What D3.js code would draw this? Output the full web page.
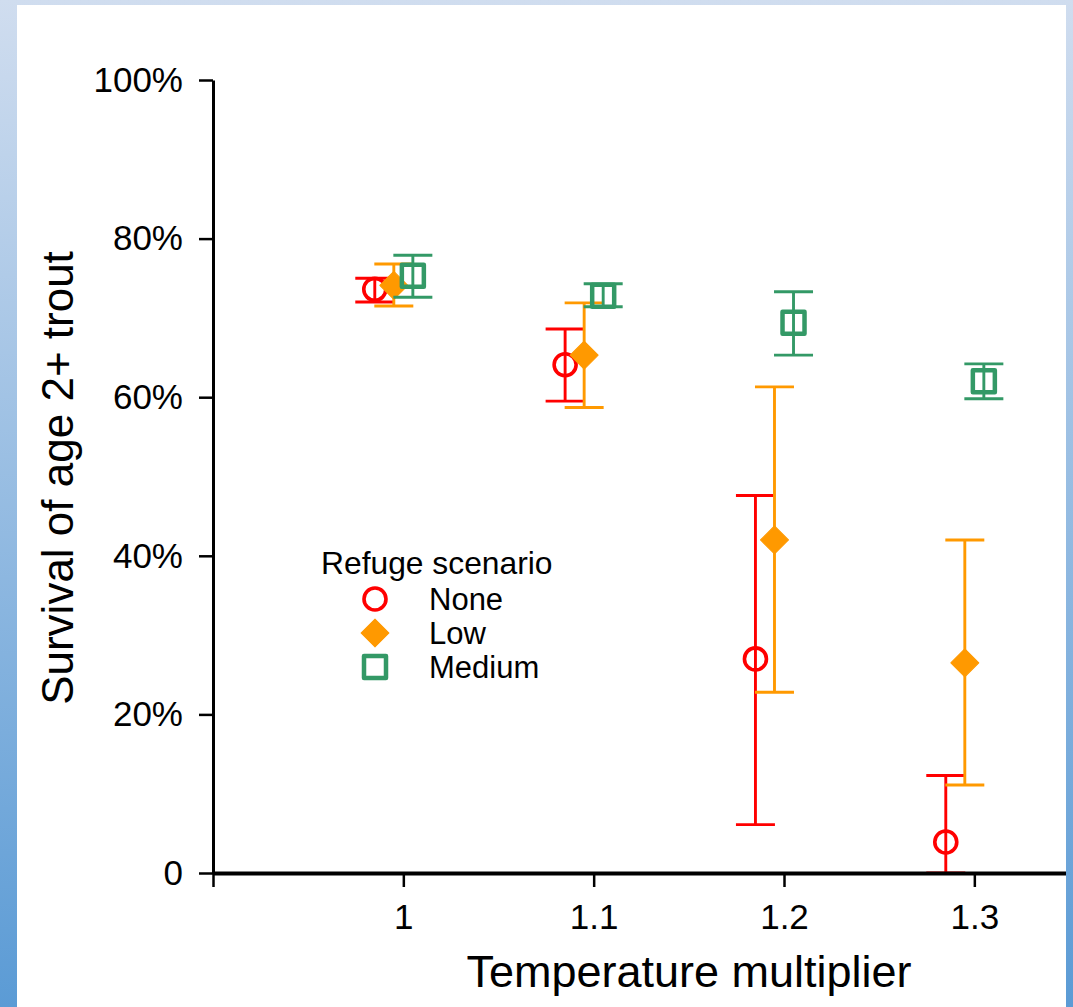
<!DOCTYPE html>
<html>
<head>
<meta charset="utf-8">
<script src="https://cdn.jsdelivr.net/npm/d3@7"></script>
<style>
  html, body { margin: 0; padding: 0; background: #fff; }
  svg { display: block; }
  text { font-family: "Liberation Sans", Arial, sans-serif; fill: #000; }
</style>
</head>
<body>
<svg id="chart" width="1073" height="1007"></svg>
<script>
// Temperature multipliers on the x axis
const temps = [1.0, 1.1, 1.2, 1.3];
const xTickValues = [0.9, 1.0, 1.1, 1.2, 1.3];
const xTickLabels = ["", "1", "1.1", "1.2", "1.3"];
const yTickValues = [0, 0.2, 0.4, 0.6, 0.8, 1.0];
const yTickLabels = ["0", "20%", "40%", "60%", "80%", "100%"];

// Refuge scenarios
const scenarios = ["None", "Low", "Medium"];

// Survival of age 2+ trout: mean, lower and upper interval per scenario
const noneMean = [0.736, 0.641, 0.270, 0.039];
const noneLow  = [0.720, 0.595, 0.061, 0.000];
const noneHigh = [0.750, 0.686, 0.476, 0.123];

const lowMean = [0.741, 0.653, 0.420, 0.265];
const lowLow  = [0.715, 0.587, 0.228, 0.111];
const lowHigh = [0.768, 0.719, 0.613, 0.420];

const medMean = [0.753, 0.728, 0.694, 0.620];
const medLow  = [0.726, 0.714, 0.653, 0.598];
const medHigh = [0.779, 0.743, 0.733, 0.642];

const series = [
  { name: scenarios[0], mean: noneMean, lo: noneLow, hi: noneHigh, color: "#FF0000", shape: "circle", dodge: -0.015 },
  { name: scenarios[1], mean: lowMean,  lo: lowLow,  hi: lowHigh,  color: "#FF9900", shape: "diamond", dodge: -0.005 },
  { name: scenarios[2], mean: medMean,  lo: medLow,  hi: medHigh,  color: "#339966", shape: "square", dodge: 0.005 }
];

const svg = d3.select("#chart");
const W = 1073, H = 1007;

// Blue gradient frame behind a white panel
const defs = svg.append("defs");
const grad = defs.append("linearGradient").attr("id", "frameGrad")
  .attr("x1", 0).attr("y1", 0).attr("x2", 0).attr("y2", 1);
grad.append("stop").attr("offset", "0%").attr("stop-color", "#D0DDEF");
grad.append("stop").attr("offset", "100%").attr("stop-color", "#5B9BD5");
svg.append("rect").attr("width", W).attr("height", H).attr("fill", "url(#frameGrad)");

const panel = { x0: 17, y0: 5, x1: 1066, y1: H };
svg.append("rect")
  .attr("x", panel.x0).attr("y", panel.y0)
  .attr("width", panel.x1 - panel.x0).attr("height", panel.y1 - panel.y0)
  .attr("fill", "#fff");

defs.append("clipPath").attr("id", "panelClip")
  .append("rect")
  .attr("x", panel.x0).attr("y", panel.y0)
  .attr("width", panel.x1 - panel.x0).attr("height", panel.y1 - panel.y0);

const g = svg.append("g").attr("clip-path", "url(#panelClip)");

// Scales
const x = d3.scaleLinear().domain([0.9, 1.35]).range([213, 1069.5]);
const y = d3.scaleLinear().domain([0, 1]).range([873, 80]);

// Error bars and markers
const capHalf = 19.5;
const symbolFor = {
  circle: d3.symbol().type(d3.symbolCircle).size(Math.PI * 11 * 11),
  diamond: d3.symbol().type(d3.symbolSquare).size(2 * 14 * 14),
  square: d3.symbol().type(d3.symbolSquare).size(22 * 22)
};

series.forEach(s => {
  const pts = temps.map((t, i) => ({ t, m: s.mean[i], lo: s.lo[i], hi: s.hi[i] }));
  const sg = g.append("g").attr("class", "series-" + s.name);

  const eb = sg.selectAll("g.eb").data(pts).join("g").attr("class", "eb")
    .attr("stroke", s.color).attr("stroke-width", 2.9).attr("fill", "none");
  eb.append("line")
    .attr("x1", d => x(d.t + s.dodge)).attr("x2", d => x(d.t + s.dodge))
    .attr("y1", d => y(d.lo)).attr("y2", d => y(d.hi));
  eb.append("line")
    .attr("x1", d => x(d.t + s.dodge) - capHalf).attr("x2", d => x(d.t + s.dodge) + capHalf)
    .attr("y1", d => y(d.hi)).attr("y2", d => y(d.hi));
  eb.append("line")
    .attr("x1", d => x(d.t + s.dodge) - capHalf).attr("x2", d => x(d.t + s.dodge) + capHalf)
    .attr("y1", d => y(d.lo)).attr("y2", d => y(d.lo));

  const mk = sg.selectAll("path.mk").data(pts).join("path").attr("class", "mk")
    .attr("d", symbolFor[s.shape]());
  styleMarker(mk, s);
  mk.attr("transform", d => {
    const base = `translate(${x(d.t + s.dodge)},${y(d.m)})`;
    return s.shape === "diamond" ? base + " rotate(45)" : base;
  });
});

function styleMarker(sel, s) {
  if (s.shape === "circle") {
    sel.attr("fill", "none").attr("stroke", s.color).attr("stroke-width", 3.6);
  } else if (s.shape === "diamond") {
    sel.attr("fill", s.color).attr("stroke", s.color).attr("stroke-width", 1).attr("stroke-linejoin", "round");
  } else {
    sel.attr("fill", "none").attr("stroke", s.color).attr("stroke-width", 4.5).attr("stroke-linejoin", "round");
  }
}

// Axes
const xAxis = d3.axisBottom(x)
  .tickValues(xTickValues)
  .tickFormat((d, i) => xTickLabels[i])
  .tickSize(14).tickSizeOuter(0).tickPadding(17);
const xg = g.append("g").attr("transform", `translate(0,${y(0)})`).call(xAxis);
xg.select(".domain").attr("stroke", "#000").attr("stroke-width", 4);
xg.selectAll(".tick line").attr("stroke", "#000").attr("stroke-width", 2.5);
xg.selectAll(".tick text").attr("font-size", 35).attr("font-family", "Liberation Sans, Arial, sans-serif").attr("fill", "#000");

const yAxis = d3.axisLeft(y)
  .tickValues(yTickValues)
  .tickFormat((d, i) => yTickLabels[i])
  .tickSize(14).tickSizeOuter(0).tickPadding(16);
const yg = g.append("g").attr("transform", `translate(${x(0.9)},0)`).call(yAxis);
yg.select(".domain").attr("stroke", "#000").attr("stroke-width", 3);
yg.selectAll(".tick line").attr("stroke", "#000").attr("stroke-width", 2.5);
yg.selectAll(".tick text").attr("font-size", 35).attr("font-family", "Liberation Sans, Arial, sans-serif").attr("fill", "#000");

// Axis titles
g.append("text")
  .attr("x", 689).attr("y", 987)
  .attr("text-anchor", "middle").attr("font-size", 45)
  .text("Temperature multiplier");

g.append("text")
  .attr("transform", "translate(73,478) rotate(-90)")
  .attr("text-anchor", "middle").attr("font-size", 44)
  .text("Survival of age 2+ trout");

// Legend
const legend = g.append("g").attr("class", "legend");
legend.append("text").attr("x", 321).attr("y", 574).attr("font-size", 31.8).text("Refuge scenario");
const rowY = d3.scalePoint().domain(scenarios).range([599, 667]);
series.forEach(s => {
  const row = legend.append("g");
  const m = row.append("path").datum(s).attr("d", symbolFor[s.shape]());
  styleMarker(m, s);
  m.attr("transform", `translate(375,${rowY(s.name)})` + (s.shape === "diamond" ? " rotate(45)" : ""));
  row.append("text").attr("x", 429).attr("y", rowY(s.name) + 11).attr("font-size", 31).text(s.name);
});
</script>
</body>
</html>
